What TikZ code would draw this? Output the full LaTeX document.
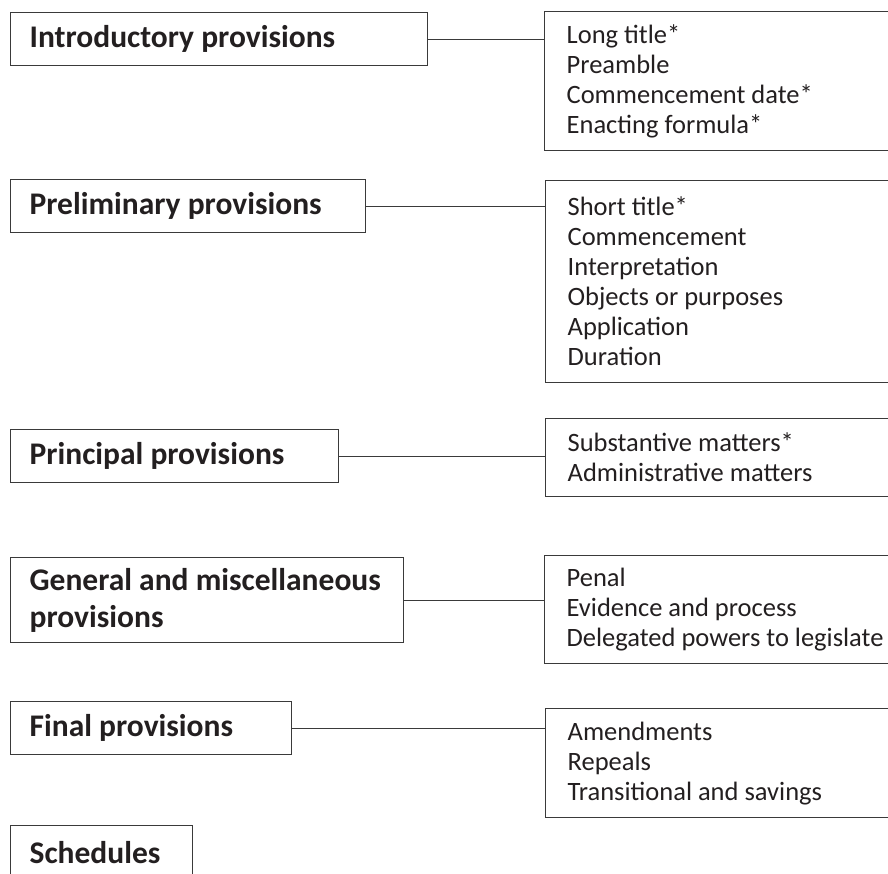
\documentclass[tikz,border=0pt]{standalone}
\usepackage{fontspec}
\setmainfont{Carlito}
\usepackage{xcolor}
\definecolor{inkgray}{HTML}{231F20}
\definecolor{rulegray}{HTML}{3A3A3A}
\tikzstyle{partbox} = [draw=rulegray, line width=1.3pt, rectangle,
    anchor=north west, align=flush left, inner xsep=19pt, inner ysep=0pt,
    minimum height=53pt, text=inkgray,
    font=\bfseries\fontsize{31.5}{37}\selectfont]
\tikzstyle{listbox} = [draw=rulegray, line width=1.3pt, rectangle,
    anchor=north west, align=flush left, inner xsep=22pt, inner ysep=0pt,
    text width=356pt, text=inkgray,
    font=\fontsize{26.5}{30}\selectfont]
\tikzstyle{link} = [draw=rulegray, line width=1.3pt]

\begin{document}
\begin{tikzpicture}[x=1pt, y=-1pt]
\clip (0,0) rectangle (888,873);
% parts of an act
\node [partbox, text width=379pt] (intro) at (10,12) {Introductory provisions};
\node [partbox, text width=317pt] (prelim) at (10,179) {Preliminary provisions};
\node [partbox, text width=290pt] (principal) at (10,429) {Principal provisions};
\node [partbox, text width=355pt, minimum height=85pt] (general) at (10,557)
    {General and miscellaneous\\provisions};
\node [partbox, text width=243pt] (final) at (10,701) {Final provisions};
\node [partbox, text width=144pt] (sched) at (10,825) {Schedules};
% what each part holds
\node [listbox, minimum height=139pt] (introlist) at (544,11)
    {Long title*\\Preamble\\Commencement date*\\Enacting formula*};
\node [listbox, minimum height=202pt] (prelimlist) at (545,180)
    {Short title*\\Commencement\\Interpretation\\Objects or purposes\\Application\\Duration};
\node [listbox, minimum height=78pt] (principallist) at (545,418)
    {Substantive matters*\\Administrative matters};
\node [listbox, minimum height=108pt] (generallist) at (544,555)
    {Penal\\Evidence and process\\Delegated powers to legislate};
\node [listbox, minimum height=109pt] (finallist) at (545,708)
    {Amendments\\Repeals\\Transitional and savings};
% links
\draw [link] (intro.east) -- (intro.east -| introlist.west);
\draw [link] (prelim.east) -- (prelim.east -| prelimlist.west);
\draw [link] (principal.east) -- (principal.east -| principallist.west);
\draw [link] (general.east) -- (general.east -| generallist.west);
\draw [link] (final.east) -- (final.east -| finallist.west);
\end{tikzpicture}
\end{document}
